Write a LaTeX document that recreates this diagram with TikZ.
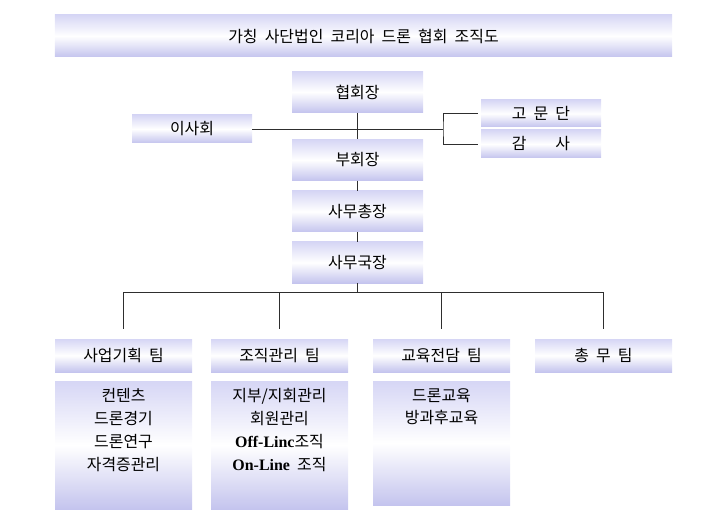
\documentclass[tikz,border=0pt]{standalone}
\usepackage{fontspec}
\setmainfont{Noto Sans CJK KR}[WordSpace=2]
\newfontfamily\latinfont{Liberation Serif}
\usetikzlibrary{positioning, calc}
\definecolor{lavtop}{HTML}{D6D6F5}
\definecolor{lavbot}{HTML}{C4C4EE}
\definecolor{linegray}{HTML}{2E2E2E}
\newcommand{\tasklist}[2][128bp]{\begin{minipage}[t][#1][t]{137bp}\centering\vspace*{7bp}#2\end{minipage}}

\begin{document}
\begin{tikzpicture}[x=1bp, y=-1bp,
  box/.style={rectangle, top color=lavtop, bottom color=lavbot, middle color=white, minimum width=131bp, minimum height=41bp, inner sep=0pt, align=center, font=\fontsize{16}{19}\selectfont},
  side/.style={box, minimum width=120bp, minimum height=28bp},
  team/.style={box, minimum width=137bp, minimum height=33bp},
  tasks/.style={rectangle, top color=lavtop, bottom color=lavbot, middle color=white, inner sep=0pt, font=\fontsize{16}{23}\selectfont},
  line/.style={draw=linegray, line width=0.7bp}
]
  \useasboundingbox (0,0) rectangle (712,532);

  % Title
  \node[box, minimum width=617bp, minimum height=42bp] (title) at (363.5,36) {가칭 사단법인 코리아 드론 협회 조직도};

  % Main column
  \node[box] (pres) at (357.5,92) {협회장};
  \node[box] (vice) at (357.5,160) {부회장};
  \node[box] (secgen) at (357.5,211.5) {사무총장};
  \node[box] (director) at (357.5,262.5) {사무국장};

  % Side boxes
  \node[side] (board) at (192,129) {이사회};
  \node[side, minimum height=27bp] (advisor) at (541,113.5) {고 문 단};
  \node[side] (audit) at (541,144) {감\hspace{1.8em}사};

  % Teams
  \node[team] (plan) at (123.5,355.5) {사업기획 팀};
  \node[team] (org) at (279.5,355.5) {조직관리 팀};
  \node[team] (edu) at (441.5,355.5) {교육전담 팀};
  \node[team] (gen) at (603.5,355.5) {총 무 팀};

  % Team duties
  \node[tasks, anchor=north] (plantasks) at (123.5,381) {\tasklist{컨텐츠\\드론경기\\드론연구\\자격증관리}};
  \node[tasks, anchor=north] (orgtasks) at (279.5,381) {\tasklist{지부/지회관리\\회원관리\\{\latinfont\bfseries Off-Linc}조직\\{\latinfont\bfseries On-Line} 조직}};
  \node[tasks, anchor=north] (edutasks) at (441.5,381) {\tasklist[124bp]{드론교육\\방과후교육}};

  % Lines
  \coordinate (brk) at (443,129);
  \coordinate (bus) at (357.5,292);
  \draw[line] (pres) -- (vice);
  \draw[line] (vice) -- (secgen);
  \draw[line] (secgen) -- (director);
  \draw[line] (board) -- (brk);
  \draw[line] ([xshift=-3bp]advisor.west) -| (brk) |- ([xshift=-3bp]audit.west);
  \draw[line] (director) -- (bus);
  \foreach \t in {plan,org,edu,gen}
    \draw[line, shorten >=10bp] (bus) -| (\t.north);
\end{tikzpicture}
\end{document}
